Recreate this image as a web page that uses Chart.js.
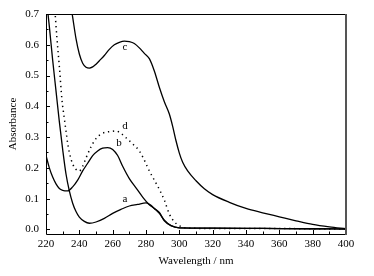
<!DOCTYPE html>
<html>
<head>
<meta charset="utf-8">
<script src="https://cdn.jsdelivr.net/npm/chart.js@4.4.1/dist/chart.umd.min.js"></script>
<style>
  html, body { margin: 0; padding: 0; background: #fff; }
  #wrap { width: 374px; height: 276px; }
</style>
</head>
<body>
<div id="wrap"><canvas id="spectra" width="374" height="276"></canvas></div>
<script>
// tick values
const xTicks = [220, 240, 260, 280, 300, 320, 340, 360, 380, 400];
const xMinor = [230, 250, 270, 290, 310, 330, 350, 370, 390];
const yTicks = [0.0, 0.1, 0.2, 0.3, 0.4, 0.5, 0.6, 0.7];
const yMinor = [0.05, 0.15, 0.25, 0.35, 0.45, 0.55, 0.65];

// spectra (wavelength nm, absorbance)
const waveA = [220, 222, 224, 226, 228, 230, 232, 234, 236, 238, 240, 243, 246, 250, 255, 260, 265, 270, 275, 280, 283, 285, 288, 291, 295, 300, 320, 350, 380, 400];
const absA  = [0.76, 0.66, 0.55, 0.45, 0.35, 0.26, 0.18, 0.125, 0.085, 0.058, 0.04, 0.026, 0.02, 0.024, 0.036, 0.052, 0.065, 0.076, 0.081, 0.086, 0.078, 0.068, 0.055, 0.028, 0.012, 0.005, 0.004, 0.003, 0.002, 0.001];

const waveB = [220, 222, 224, 226, 228, 230, 233, 236, 239, 242, 245, 248, 251, 254, 257, 260, 263, 266, 270, 274, 278, 282, 285, 288, 291, 295, 300, 320, 350, 380, 400];
const absB  = [0.24, 0.2, 0.17, 0.148, 0.133, 0.127, 0.125, 0.138, 0.16, 0.19, 0.215, 0.24, 0.255, 0.264, 0.266, 0.26, 0.24, 0.205, 0.165, 0.135, 0.105, 0.08, 0.068, 0.052, 0.03, 0.012, 0.005, 0.004, 0.003, 0.002, 0.001];

const waveC = [232, 234, 236, 238, 240, 242, 244, 246, 248, 250, 252, 255, 258, 261, 264, 267, 270, 273, 276, 279, 282, 285, 288, 291, 294, 296, 298, 300, 302, 305, 310, 315, 320, 330, 340, 350, 360, 370, 380, 390, 400];
const absC  = [0.85, 0.76, 0.69, 0.62, 0.57, 0.54, 0.527, 0.524, 0.528, 0.537, 0.548, 0.565, 0.585, 0.6, 0.608, 0.612, 0.61, 0.604, 0.59, 0.572, 0.555, 0.515, 0.462, 0.415, 0.375, 0.335, 0.288, 0.248, 0.218, 0.19, 0.158, 0.132, 0.113, 0.088, 0.068, 0.054, 0.041, 0.028, 0.016, 0.008, 0.002];

const waveD = [222, 224, 225.5, 226.5, 228, 229.6, 231, 232, 233, 234, 236, 238, 240, 242, 244, 247, 250, 253, 256, 259, 262, 265, 268, 272, 276, 279, 282, 285, 288, 291, 294, 297, 300, 305, 320, 350, 380, 400];
const absD  = [0.92, 0.8, 0.7, 0.625, 0.53, 0.42, 0.36, 0.32, 0.28, 0.25, 0.213, 0.195, 0.19, 0.205, 0.232, 0.268, 0.295, 0.31, 0.316, 0.318, 0.32, 0.312, 0.298, 0.278, 0.255, 0.225, 0.19, 0.16, 0.13, 0.095, 0.05, 0.025, 0.012, 0.004, 0.003, 0.003, 0.002, 0.001];

// curve labels
const labelText = ["a", "b", "c", "d"];
const labelWave = [267.4, 263.8, 267.4, 267.4];
const labelAbs  = [0.099, 0.28, 0.594, 0.336];

const serif = "'Liberation Serif', 'DejaVu Serif', serif";

function pts(xs, ys) {
    return xs.map((x, i) => ({ x: x, y: ys[i] }));
}

const framePlugin = {
    id: "frame",
    afterDatasetsDraw(chart) {
        const c = chart.ctx;
        const a = chart.chartArea;
        const xs = chart.scales.x;
        const ys = chart.scales.y;
        c.save();
        c.strokeStyle = "#000";
        c.lineWidth = 1;
        c.beginPath();
        // inward ticks on bottom and left
        xTicks.forEach(v => {
            const px = Math.round(xs.getPixelForValue(v)) + 0.5;
            c.moveTo(px, a.bottom); c.lineTo(px, a.bottom - 4);
        });
        xMinor.forEach(v => {
            const px = Math.round(xs.getPixelForValue(v)) + 0.5;
            c.moveTo(px, a.bottom); c.lineTo(px, a.bottom - 2.5);
        });
        yTicks.forEach(v => {
            const py = Math.round(ys.getPixelForValue(v)) + 0.5;
            c.moveTo(a.left, py); c.lineTo(a.left + 4, py);
        });
        yMinor.forEach(v => {
            const py = Math.round(ys.getPixelForValue(v)) + 0.5;
            c.moveTo(a.left, py); c.lineTo(a.left + 2.5, py);
        });
        c.stroke();

        // frame
        c.beginPath();
        c.moveTo(a.left + 0.5, a.top + 0.5);
        c.lineTo(a.right, a.top + 0.5);
        c.moveTo(a.left + 0.5, a.top);
        c.lineTo(a.left + 0.5, a.bottom + 0.5);
        c.lineTo(a.right, a.bottom + 0.5);
        c.stroke();
        c.strokeStyle = "#555";
        c.lineWidth = 2;
        c.beginPath();
        c.moveTo(a.right, a.top);
        c.lineTo(a.right, a.bottom + 1);
        c.stroke();

        // curve letters
        c.fillStyle = "#000";
        c.font = "11px " + serif;
        c.textAlign = "center";
        c.textBaseline = "middle";
        labelText.forEach((t, i) => {
            c.fillText(t, xs.getPixelForValue(labelWave[i]), ys.getPixelForValue(labelAbs[i]));
        });
        c.restore();
    }
};

const solid = { borderColor: "#000", borderWidth: 1.3, pointRadius: 0, cubicInterpolationMode: "monotone", fill: false };

new Chart(document.getElementById("spectra").getContext("2d"), {
    type: "line",
    data: {
        datasets: [
            Object.assign({ label: "a", data: pts(waveA, absA) }, solid),
            Object.assign({ label: "b", data: pts(waveB, absB) }, solid),
            Object.assign({ label: "c", data: pts(waveC, absC) }, solid),
            Object.assign({ label: "d", data: pts(waveD, absD) }, solid, { borderWidth: 1.5, borderDash: [1.3, 3.7] })
        ]
    },
    options: {
        responsive: false,
        animation: false,
        layout: { padding: { top: 14, right: 28, left: 0, bottom: 0 } },
        plugins: {
            legend: { display: false },
            tooltip: { enabled: false }
        },
        scales: {
            x: {
                type: "linear",
                min: 220,
                max: 400,
                grid: { display: false, drawTicks: false },
                border: { display: false },
                afterBuildTicks: s => { s.ticks = xTicks.map(v => ({ value: v })); },
                afterFit: s => { s.height = 42; },
                ticks: { color: "#000", padding: 4, maxRotation: 0, font: { family: serif, size: 11 } },
                title: { display: true, text: "Wavelength / nm", color: "#000", padding: { top: 0, bottom: 8 }, font: { family: serif, size: 11 } }
            },
            y: {
                min: -0.015,
                max: 0.7,
                grid: { display: false, drawTicks: false },
                border: { display: false },
                afterBuildTicks: s => { s.ticks = yTicks.map(v => ({ value: v })); },
                afterFit: s => { s.width = 46; },
                ticks: { color: "#000", padding: 7, callback: v => v.toFixed(1), font: { family: serif, size: 11 } },
                title: { display: true, text: "Absorbance", color: "#000", padding: { top: 7, bottom: 0 }, font: { family: serif, size: 11 } }
            }
        }
    },
    plugins: [framePlugin]
});
</script>
</body>
</html>
